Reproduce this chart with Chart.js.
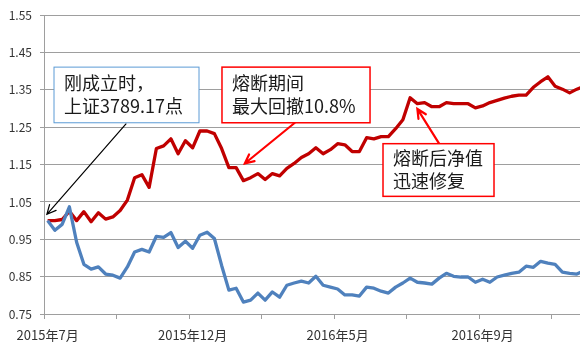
<!DOCTYPE html>
<html>
<head>
<meta charset="utf-8">
<script src="https://cdn.jsdelivr.net/npm/chart.js@4.4.0/dist/chart.umd.min.js"></script>
<style>
  html, body { margin: 0; padding: 0; background: #fff; overflow: hidden; }
  #wrap { width: 600px; height: 351px; position: relative; }
</style>
</head>
<body>
<div id="wrap"><canvas id="navChart"></canvas></div>
<script>
'use strict';

// ---- Data (weekly points) ----
const xTickLabels = ['2015年7月', '2015年12月', '2016年5月', '2016年9月'];
const yTickValues = [0.75, 0.85, 0.95, 1.05, 1.15, 1.25, 1.35, 1.45, 1.55];

// fund net value (red)
const fundNav = [
  1.000, 1.000, 1.003, 1.025, 1.000, 1.024, 0.997, 1.021, 1.004, 1.010,
  1.027, 1.055, 1.115, 1.123, 1.089, 1.193, 1.200, 1.219, 1.179, 1.214,
  1.195, 1.240, 1.240, 1.233, 1.193, 1.142, 1.142, 1.107, 1.115, 1.126,
  1.110, 1.126, 1.120, 1.140, 1.153, 1.169, 1.179, 1.195, 1.179, 1.190,
  1.206, 1.203, 1.185, 1.185, 1.222, 1.219, 1.225, 1.225, 1.246, 1.270,
  1.329, 1.313, 1.316, 1.305, 1.305, 1.316, 1.313, 1.313, 1.313, 1.302,
  1.307, 1.316, 1.322, 1.328, 1.333, 1.336, 1.336, 1.357, 1.372, 1.385,
  1.360, 1.352, 1.342, 1.352, 1.360, 1.365
];

// index, normalised (blue)
const indexNav = [
  1.000, 0.974, 0.990, 1.037, 0.942, 0.883, 0.870, 0.876, 0.857, 0.854,
  0.846, 0.876, 0.916, 0.923, 0.916, 0.958, 0.955, 0.968, 0.928, 0.945,
  0.926, 0.961, 0.969, 0.952, 0.880, 0.814, 0.819, 0.782, 0.787, 0.806,
  0.787, 0.809, 0.795, 0.827, 0.833, 0.838, 0.833, 0.851, 0.827, 0.822,
  0.817, 0.801, 0.801, 0.798, 0.822, 0.819, 0.811, 0.806, 0.822, 0.833,
  0.846, 0.835, 0.833, 0.830, 0.846, 0.859, 0.851, 0.849, 0.849, 0.835,
  0.843, 0.835, 0.849, 0.854, 0.859, 0.862, 0.878, 0.875, 0.891, 0.886,
  0.883, 0.862, 0.859, 0.857, 0.866, 0.872
];

// ---- Callouts, placed in data units (x = week index, y = value) ----
const callouts = [
  { lines: ['刚成立时，', '上证3789.17点'], x0: 0.88, x1: 20.88, y0: 1.411, y1: 1.262, color: '#5b9bd5', width: 1 },
  { lines: ['熔断期间', '最大回撤10.8%'],   x0: 24.05, x1: 44.47, y0: 1.411, y1: 1.262, color: '#ff0000', width: 1.5 },
  { lines: ['熔断后净值', '迅速修复'],       x0: 46.26, x1: 61.57, y0: 1.206, y1: 1.065, color: '#ff0000', width: 1.5 },
];
const arrows = [
  { from: [10.81, 1.259], to: [-0.1, 1.017], color: '#000000', width: 1.2 },
  { from: [34.1, 1.262],  to: [27.2, 1.153], color: '#ff0000', width: 2.2 },
  { from: [54.0, 1.206],  to: [51.0, 1.299], color: '#ff0000', width: 2.2 },
];

const TEXT_FONT = '18px "Noto Sans CJK SC", "Noto Sans", sans-serif';
const TICK_FONT = { family: '"Noto Sans CJK SC", "Noto Sans", sans-serif', size: 12 };
const GRID = '#9e9e9e';

// ---- Plugin: boxes + arrows ----
const calloutPlugin = {
  id: 'callouts',
  afterDatasetsDraw(chart) {
    const { ctx, scales: { x, y } } = chart;
    ctx.save();

    arrows.forEach(a => {
      const x1 = x.getPixelForValue(a.from[0]), y1 = y.getPixelForValue(a.from[1]);
      const x2 = x.getPixelForValue(a.to[0]),   y2 = y.getPixelForValue(a.to[1]);
      const ang = Math.atan2(y2 - y1, x2 - x1);
      const head = 10;
      ctx.strokeStyle = a.color;
      ctx.lineWidth = a.width;
      ctx.lineCap = 'round';
      ctx.beginPath();
      ctx.moveTo(x1, y1);
      ctx.lineTo(x2, y2);
      ctx.moveTo(x2 - head * Math.cos(ang - 0.45), y2 - head * Math.sin(ang - 0.45));
      ctx.lineTo(x2, y2);
      ctx.lineTo(x2 - head * Math.cos(ang + 0.45), y2 - head * Math.sin(ang + 0.45));
      ctx.stroke();
    });

    callouts.forEach(c => {
      const left = x.getPixelForValue(c.x0), right = x.getPixelForValue(c.x1);
      const top = y.getPixelForValue(c.y0),  bottom = y.getPixelForValue(c.y1);
      ctx.fillStyle = '#fff';
      ctx.fillRect(left, top, right - left, bottom - top);
      ctx.strokeStyle = c.color;
      ctx.lineWidth = c.width;
      ctx.strokeRect(left, top, right - left, bottom - top);

      ctx.fillStyle = '#1a1a1a';
      ctx.font = TEXT_FONT;
      ctx.textBaseline = 'middle';
      ctx.textAlign = 'left';
      const mid = (top + bottom) / 2;
      c.lines.forEach((t, i) => {
        ctx.fillText(t, left + 10, mid + (i - 0.5) * 23);
      });
    });

    ctx.restore();
  }
};

// ---- Chart ----
new Chart(document.getElementById('navChart'), {
  type: 'line',
  data: {
    datasets: [
      {
        label: '指数',
        data: indexNav.map((v, i) => ({ x: i, y: v })),
        borderColor: '#4f81bd',
        borderWidth: 3.3,
        pointRadius: 0,
        tension: 0,
        borderJoinStyle: 'round',
      },
      {
        label: '净值',
        data: fundNav.map((v, i) => ({ x: i, y: v })),
        borderColor: '#c00000',
        borderWidth: 3.3,
        pointRadius: 0,
        tension: 0,
        borderJoinStyle: 'round',
      },
    ],
  },
  options: {
    responsive: true,
    maintainAspectRatio: false,
    animation: false,
    layout: { padding: { top: 14, right: 5, left: 0, bottom: 0 } },
    plugins: { legend: { display: false }, tooltip: { enabled: false } },
    scales: {
      x: {
        type: 'linear',
        min: -0.5,
        max: 75.5,
        afterBuildTicks: s => { s.ticks = [0, 1, 2, 3, 4, 5, 6, 7].map(k => ({ value: -0.5 + 10 * k })); },
        afterFit: s => { s.height = 37; },
        grid: { drawOnChartArea: false, drawTicks: true, tickLength: 5, color: GRID },
        border: { color: GRID },
        ticks: {
          autoSkip: false,
          maxRotation: 0,
          labelOffset: 3.6,
          padding: 8,
          color: '#333333',
          font: { ...TICK_FONT, size: 13 },
          callback: (v, k) => (k % 2 === 0 ? xTickLabels[k / 2] : ''),
        },
      },
      y: {
        min: 0.75,
        max: 1.55,
        afterBuildTicks: s => { s.ticks = yTickValues.map(v => ({ value: v })); },
        afterFit: s => { s.width = 44; },
        grid: { color: GRID, tickLength: 4 },
        border: { color: GRID },
        ticks: {
          padding: 8,
          color: '#333333',
          font: TICK_FONT,
          callback: v => v.toFixed(2),
        },
      },
    },
  },
  plugins: [calloutPlugin],
});
</script>
</body>
</html>
